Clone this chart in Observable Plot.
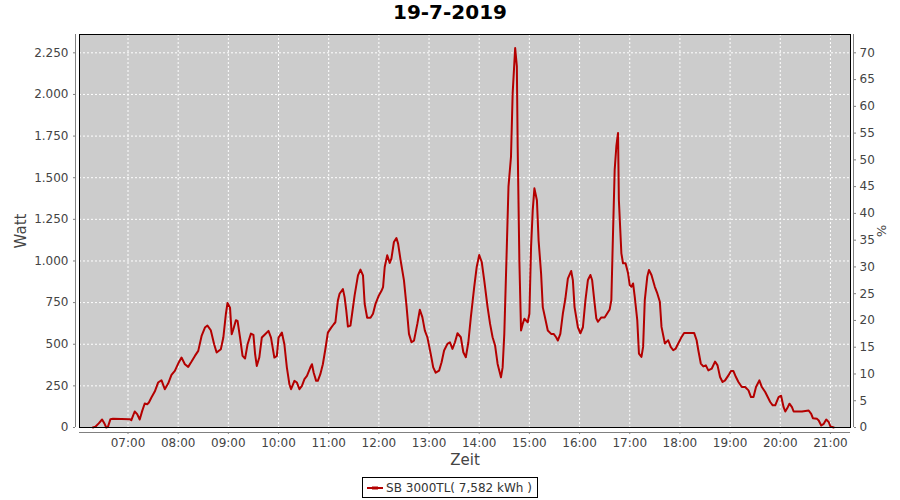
<!DOCTYPE html>
<html><head><meta charset="utf-8">
<script src="https://cdn.jsdelivr.net/npm/d3@7"></script>
<script src="https://cdn.jsdelivr.net/npm/@observablehq/plot@0.6"></script>
<style>
body{margin:0;background:#fff;width:900px;}
#title{height:26px;line-height:26px;text-align:center;font:bold 20px "DejaVu Sans";color:#000;}
#legend{display:flex;justify-content:center;margin-top:7px;}
.lg{border:1px solid #000;height:19px;display:flex;align-items:center;padding:0 5px 0 3px;font:12px "DejaVu Sans";color:#333;}
</style></head>
<body>
<div id="title">19-7-2019</div>
<div id="chart"></div>
<div id="legend"><div class="lg"><svg width="18" height="8" style="margin-right:2px"><line x1="1" x2="17" y1="4" y2="4" stroke="#b40000" stroke-width="2"/><rect x="6" y="2.5" width="6" height="3" fill="#b40000"/></svg><span id="lgtext"></span></div></div>
<script>
const seriesName = "SB 3000TL( 7,582 kWh )";
const times = ["06:18","06:21","06:25","06:29","06:32","06:34","06:36","06:39","06:42","07:02","07:04","07:08","07:11","07:14","07:17","07:20","07:23","07:25","07:28","07:32","07:36","07:40","07:44","07:48","07:52","07:56","08:00","08:04","08:08","08:12","08:16","08:20","08:24","08:28","08:32","08:35","08:39","08:43","08:46","08:51","08:54","08:57","08:59","09:02","09:04","09:06","09:09","09:11","09:14","09:17","09:20","09:23","09:27","09:30","09:32","09:34","09:37","09:40","09:44","09:48","09:51","09:55","09:58","10:00","10:04","10:07","10:10","10:13","10:15","10:19","10:22","10:25","10:28","10:31","10:34","10:38","10:40","10:42","10:45","10:47","10:50","10:53","10:56","10:59","11:03","11:06","11:08","11:11","11:13","11:17","11:19","11:21","11:23","11:26","11:28","11:31","11:35","11:38","11:41","11:43","11:46","11:50","11:53","11:56","12:00","12:03","12:05","12:07","12:10","12:13","12:15","12:18","12:21","12:23","12:26","12:30","12:33","12:36","12:39","12:42","12:46","12:49","12:52","12:55","12:58","13:02","13:05","13:08","13:12","13:15","13:18","13:22","13:25","13:28","13:31","13:34","13:38","13:41","13:44","13:47","13:50","13:54","13:57","14:00","14:03","14:06","14:10","14:13","14:16","14:19","14:22","14:26","14:28","14:30","14:33","14:35","14:38","14:40","14:42","14:43","14:45","14:46","14:48","14:50","14:52","14:54","14:58","15:00","15:02","15:04","15:06","15:09","15:11","15:14","15:16","15:19","15:22","15:26","15:29","15:32","15:34","15:37","15:40","15:43","15:46","15:50","15:52","15:54","15:58","16:01","16:04","16:07","16:10","16:13","16:15","16:18","16:20","16:22","16:26","16:30","16:33","16:36","16:38","16:40","16:42","16:44","16:46","16:47","16:50","16:52","16:55","16:58","17:00","17:02","17:04","17:06","17:09","17:11","17:14","17:16","17:18","17:21","17:23","17:26","17:30","17:33","17:36","17:38","17:42","17:44","17:46","17:49","17:52","17:55","17:58","18:02","18:05","18:17","18:20","18:22","18:25","18:28","18:31","18:34","18:38","18:42","18:45","18:48","18:51","18:54","18:58","19:01","19:04","19:07","19:10","19:14","19:18","19:22","19:25","19:28","19:31","19:35","19:38","19:42","19:45","19:48","19:51","19:54","19:58","20:01","20:04","20:06","20:09","20:11","20:14","20:16","20:26","20:34","20:37","20:39","20:44","20:46","20:49","20:52","20:55","20:58","21:00","21:04"];
const watts = [0,5,25,48,22,0,4,50,52,50,44,96,80,48,100,144,140,150,180,216,270,284,230,264,316,340,384,420,380,364,396,430,460,550,600,612,584,500,450,470,540,680,748,720,560,590,644,640,540,430,414,500,564,556,440,370,420,540,560,580,540,420,430,540,570,500,360,260,230,280,270,230,250,290,310,360,380,330,280,280,320,380,470,570,600,620,632,763,803,831,783,703,606,612,683,793,914,948,914,743,659,659,683,743,793,819,843,964,1034,988,1014,1114,1137,1104,1004,884,733,562,512,522,622,707,663,582,542,442,361,329,341,392,462,502,512,472,512,566,542,452,422,512,663,843,964,1036,994,884,723,622,542,492,382,301,361,562,1084,1446,1626,2008,2189,2279,2169,1687,1004,582,622,653,632,683,1084,1305,1436,1365,1124,924,723,653,582,562,562,542,522,562,683,773,894,940,884,723,602,566,602,763,886,916,886,745,655,635,661,661,685,709,765,1167,1548,1689,1769,1367,1046,986,986,926,855,845,865,785,645,444,424,484,765,906,946,916,845,805,755,604,504,514,524,484,464,474,504,544,568,568,524,464,384,367,373,343,353,396,373,303,273,283,313,339,339,303,273,243,243,223,183,183,243,283,243,213,183,153,133,133,183,191,122,96,122,143,122,96,96,102,82,56,52,42,12,22,48,32,6,0];
const hourTicks = ["07:00","08:00","09:00","10:00","11:00","12:00","13:00","14:00","15:00","16:00","17:00","18:00","19:00","20:00","21:00"];
const wattTicks = [0,250,500,750,1000,1250,1500,1750,2000,2250];
const pctTicks = [0,5,10,15,20,25,30,35,40,45,50,55,60,65,70];
const xDomain = ["06:02","21:24"];
const yMax = 2360;
const wattsAt70pct = 2250;

const toDate = s => { const [h,m] = s.split(":").map(Number); return new Date(Date.UTC(2019,6,19,h,m)); };
const data = times.map((t,i) => ({t: toDate(t), w: watts[i]}));
const fmtDE = d => String(d).replace(/\B(?=(\d{3})+(?!\d))/g, ".");
const wPerPct = wattsAt70pct / 70;
const x0 = toDate(xDomain[0]), x1 = toDate(xDomain[1]);
document.getElementById("lgtext").textContent = seriesName;

const chart = Plot.plot({
  width: 900, height: 444,
  marginTop: 8, marginBottom: 43, marginLeft: 79, marginRight: 50,
  style: {fontFamily: "DejaVu Sans", fontSize: "12px", color: "#444", background: "#fff", overflow: "visible"},
  x: {type: "utc", domain: [x0, x1]},
  y: {domain: [0, yMax]},
  marks: [
    Plot.frame({fill: "#cccccc"}),
    Plot.gridX(hourTicks.map(toDate), {stroke: "#fff", strokeOpacity: 1, strokeDasharray: "2,2"}),
    Plot.gridY(wattTicks, {stroke: "#fff", strokeOpacity: 1, strokeDasharray: "2,2"}),
    Plot.line(data, {x: "t", y: "w", stroke: "#b40000", strokeWidth: 2}),
    Plot.frame({stroke: "#000"}),
    Plot.ruleX([x0], {dx: -4, stroke: "#808080"}),
    Plot.ruleX([x1], {dx: 3, stroke: "#808080"}),
    Plot.ruleY([0], {dy: 5, stroke: "#808080"}),
    Plot.axisY(wattTicks, {anchor: "left", tickSize: 2, tickPadding: 5, dx: -4, tickFormat: fmtDE, label: null, stroke: "#808080", fill: "#444"}),
    Plot.axisY(pctTicks.map(p => p * wPerPct), {anchor: "right", tickSize: 2, tickPadding: 4, dx: 3, tickFormat: w => String(Math.round(w / wPerPct)), label: null, stroke: "#808080", fill: "#444"}),
    Plot.axisX(hourTicks.map(toDate), {anchor: "bottom", tickSize: 2, tickPadding: 4, dy: 5, tickFormat: d3.utcFormat("%H:%M"), label: null, stroke: "#808080", fill: "#444"}),
    Plot.text(["Watt"], {frameAnchor: "left", dx: -58, rotate: -90, textAnchor: "middle", lineAnchor: "middle", fontSize: 15, fill: "#444"}),
    Plot.text(["Zeit"], {frameAnchor: "bottom", dy: 33, textAnchor: "middle", lineAnchor: "middle", fontSize: 15, fill: "#444"}),
    Plot.text(["%"], {frameAnchor: "right", dx: 31, rotate: 90, textAnchor: "middle", lineAnchor: "middle", fontSize: 13, fill: "#444"})
  ]
});
document.getElementById("chart").append(chart);
</script>
</body></html>
